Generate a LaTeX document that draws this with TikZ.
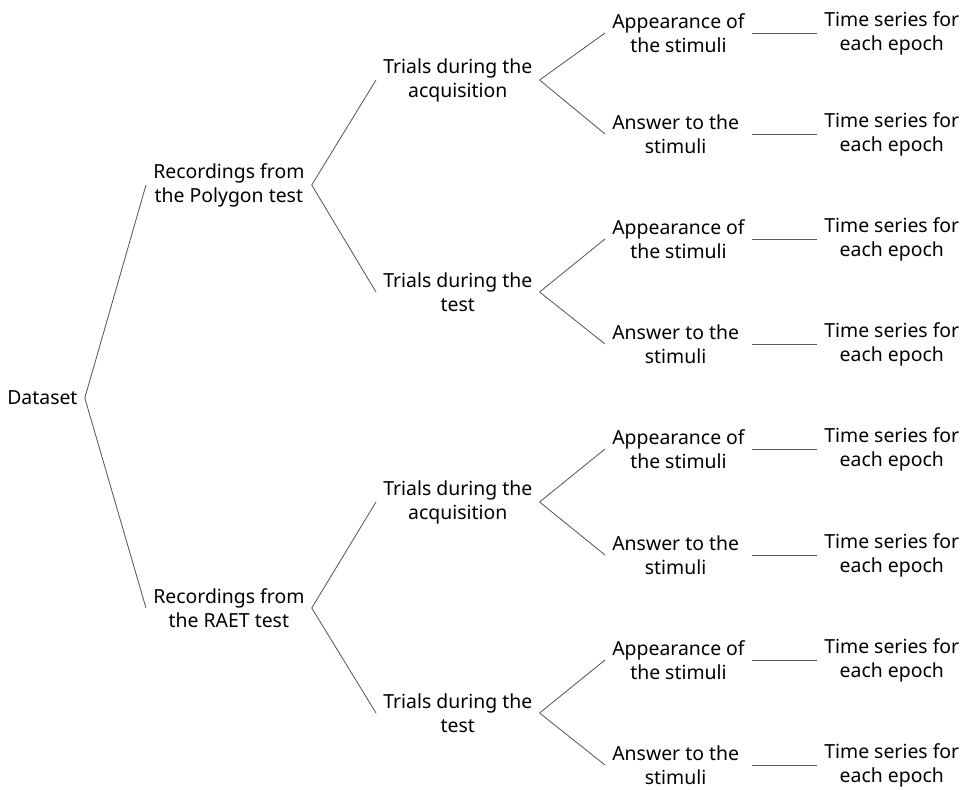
\documentclass[tikz,border=0pt]{standalone}
\usepackage{fontspec}
\setmainfont{Noto Sans}
\usepackage{tikz}
\usetikzlibrary{positioning}

\begin{document}
\begin{tikzpicture}[x=0.025cm, y=-0.025cm,
        item/.style={anchor=west, align=center, inner sep=5pt,
            font=\fontsize{13.8}{17}\selectfont},
        link/.style={draw=black!65, line width=0.6pt}]
                \useasboundingbox (0,0) rectangle (968,790);

                \node[item] (data) at (0,398) {Dataset};
                \node[item] (poly) at (146,185) {Recordings from\\the Polygon test};
                \node[item] (raet) at (146,608) {Recordings from\\the RAET test};

                \node[item] (pacq) at (376,80) {Trials during the\\acquisition};
                \node[item] (ptst) at (376,292) {Trials during the\\test};
                \node[item] (racq) at (376,502) {Trials during the\\acquisition};
                \node[item] (rtst) at (376,713) {Trials during the\\test};

                \node[item] (pacqapp) at (605,33) {Appearance of\\the stimuli};
                \node[item] (pacqans) at (605,134) {Answer to the\\stimuli};
                \node[item] (ptstapp) at (605,239) {Appearance of\\the stimuli};
                \node[item] (ptstans) at (605,344) {Answer to the\\stimuli};
                \node[item] (racqapp) at (605,449) {Appearance of\\the stimuli};
                \node[item] (racqans) at (605,555) {Answer to the\\stimuli};
                \node[item] (rtstapp) at (605,660) {Appearance of\\the stimuli};
                \node[item] (rtstans) at (605,765) {Answer to the\\stimuli};

                \node[item] (pacqappts) at (817,33) {Time series for\\each epoch};
                \node[item] (pacqansts) at (817,134) {Time series for\\each epoch};
                \node[item] (ptstappts) at (817,239) {Time series for\\each epoch};
                \node[item] (ptstansts) at (817,344) {Time series for\\each epoch};
                \node[item] (racqappts) at (817,449) {Time series for\\each epoch};
                \node[item] (racqansts) at (817,555) {Time series for\\each epoch};
                \node[item] (rtstappts) at (817,660) {Time series for\\each epoch};
                \node[item] (rtstansts) at (817,765) {Time series for\\each epoch};

                \path[link]
                (data.east) edge (poly.west)
                (data.east) edge (raet.west)
                (poly.east) edge (pacq.west)
                (poly.east) edge (ptst.west)
                (raet.east) edge (racq.west)
                (raet.east) edge (rtst.west)
                (pacq.east) edge (pacqapp.west)
                (pacq.east) edge (pacqans.west)
                (ptst.east) edge (ptstapp.west)
                (ptst.east) edge (ptstans.west)
                (racq.east) edge (racqapp.west)
                (racq.east) edge (racqans.west)
                (rtst.east) edge (rtstapp.west)
                (rtst.east) edge (rtstans.west)
                (pacqapp) edge (pacqappts)
                (pacqapp.east |- pacqans) edge (pacqansts)
                (ptstapp) edge (ptstappts)
                (ptstapp.east |- ptstans) edge (ptstansts)
                (racqapp) edge (racqappts)
                (racqapp.east |- racqans) edge (racqansts)
                (rtstapp) edge (rtstappts)
                (rtstapp.east |- rtstans) edge (rtstansts);
            \end{tikzpicture}
\end{document}
